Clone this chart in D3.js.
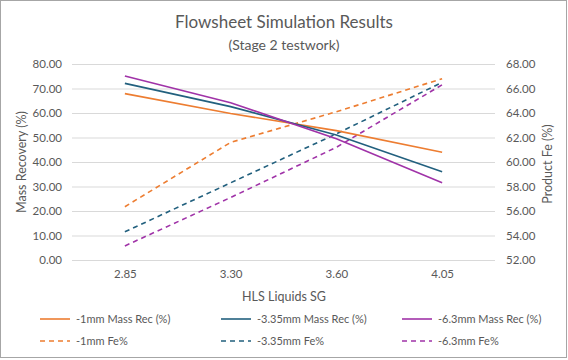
<!DOCTYPE html>
<html><head><meta charset="utf-8">
<script src="https://cdn.jsdelivr.net/npm/d3@7/dist/d3.min.js"></script>
<style>body{margin:0;background:#fff}svg{display:block;font-family:Lato,"Open Sans",sans-serif}</style>
</head><body><svg id="c" width="568" height="360"></svg>
<script>
const categories = ["2.85","3.30","3.60","4.05"];
const massRec1 = [67.9, 59.8, 52.8, 44.0];
const massRec335 = [72.1, 62.6, 51.0, 36.0];
const massRec63 = [75.1, 64.2, 49.5, 31.5];
const fe1 = [56.35, 61.6, 64.1, 66.8];
const fe335 = [54.3, 58.3, 62.3, 66.5];
const fe63 = [53.15, 57.1, 61.2, 66.3];
const leftTicks = [0,10,20,30,40,50,60,70,80];
const rightTicks = [52,54,56,58,60,62,64,66,68];
const seriesNames = ["-1mm Mass Rec (%)","-3.35mm Mass Rec (%)","-6.3mm Mass Rec (%)","-1mm Fe%","-3.35mm Fe%","-6.3mm Fe%"];

const colors = ["#ED7D31","#22607E","#A033A8"];
const series = [
  {name:seriesNames[0], values:massRec1, axis:"L", color:colors[0], dash:null},
  {name:seriesNames[1], values:massRec335, axis:"L", color:colors[1], dash:null},
  {name:seriesNames[2], values:massRec63, axis:"L", color:colors[2], dash:null},
  {name:seriesNames[3], values:fe1, axis:"R", color:colors[0], dash:"5,4"},
  {name:seriesNames[4], values:fe335, axis:"R", color:colors[1], dash:"5,4"},
  {name:seriesNames[5], values:fe63, axis:"R", color:colors[2], dash:"5,4"}
];

const svg = d3.select("#c");
const txt = "#595959";
svg.append("rect").attr("x",0.5).attr("y",0.5).attr("width",566).attr("height",357)
  .attr("fill","#fff").attr("stroke","#a6a6a6");

const x0 = 72, x1 = 495, yTop = 64, yBot = 260;
const x = d3.scalePoint().domain(categories).range([x0,x1]).padding(0.5);
const yL = d3.scaleLinear().domain([0,80]).range([yBot,yTop]);
const yR = d3.scaleLinear().domain([52,68]).range([yBot,yTop]);

// gridlines
svg.append("g").selectAll("line").data(leftTicks).join("line")
  .attr("x1",x0).attr("x2",x1).attr("y1",d=>yL(d)+0.5).attr("y2",d=>yL(d)+0.5)
  .attr("stroke","#d9d9d9").attr("stroke-width",1);

// axes
const gl = svg.append("g").attr("transform",`translate(${x0},0)`)
  .call(d3.axisLeft(yL).tickValues(leftTicks).tickFormat(d3.format(".2f")).tickSize(0).tickPadding(10));
const gr = svg.append("g").attr("transform",`translate(${x1},0)`)
  .call(d3.axisRight(yR).tickValues(rightTicks).tickFormat(d3.format(".2f")).tickSize(0).tickPadding(11));
const gx = svg.append("g").attr("transform",`translate(0,${yBot})`)
  .call(d3.axisBottom(x).tickSize(0).tickPadding(10));
[gl,gr,gx].forEach(g=>{g.select(".domain").remove();
  g.selectAll("text").attr("fill",txt).style("font-size","11.5px").style("font-family","Lato,sans-serif");});

// lines
const lineL = d3.line().x((d,i)=>x(categories[i])).y(d=>yL(d));
const lineR = d3.line().x((d,i)=>x(categories[i])).y(d=>yR(d));
const order = [3,4,5,0,1,2];
order.forEach(k=>{
  const s = series[k];
  svg.append("path").datum(s.values)
    .attr("d", s.axis==="L"?lineL:lineR)
    .attr("fill","none").attr("stroke",s.color).attr("stroke-width",1.6)
    .attr("stroke-dasharray",s.dash);
});

// titles
svg.append("text").attr("x",284).attr("y",28).attr("text-anchor","middle")
  .attr("fill",txt).style("font-size","17px").text("Flowsheet Simulation Results");
svg.append("text").attr("x",284).attr("y",50).attr("text-anchor","middle")
  .attr("fill",txt).style("font-size","14px").text("(Stage 2 testwork)");
svg.append("text").attr("transform","translate(26,162) rotate(-90)").attr("text-anchor","middle")
  .attr("fill",txt).style("font-size","12.5px").text("Mass Recovery (%)");
svg.append("text").attr("transform","translate(552,164) rotate(-90)").attr("text-anchor","middle")
  .attr("fill",txt).style("font-size","12.5px").text("Product Fe (%)");
svg.append("text").attr("x",284).attr("y",301).attr("text-anchor","middle")
  .attr("fill",txt).style("font-size","12.5px").text("HLS Liquids SG");

// legend
const colX = [40,221,402];
const rowY = [319,341];
series.forEach((s,i)=>{
  const cx = colX[i%3], cy = rowY[Math.floor(i/3)];
  svg.append("line").attr("x1",cx).attr("x2",cx+30).attr("y1",cy).attr("y2",cy)
    .attr("stroke",s.color).attr("stroke-width",1.6).attr("stroke-dasharray",s.dash);
  svg.append("text").attr("x",cx+36).attr("y",cy+4).attr("fill",txt)
    .style("font-size","11px").text(s.name);
});
</script></body></html>
